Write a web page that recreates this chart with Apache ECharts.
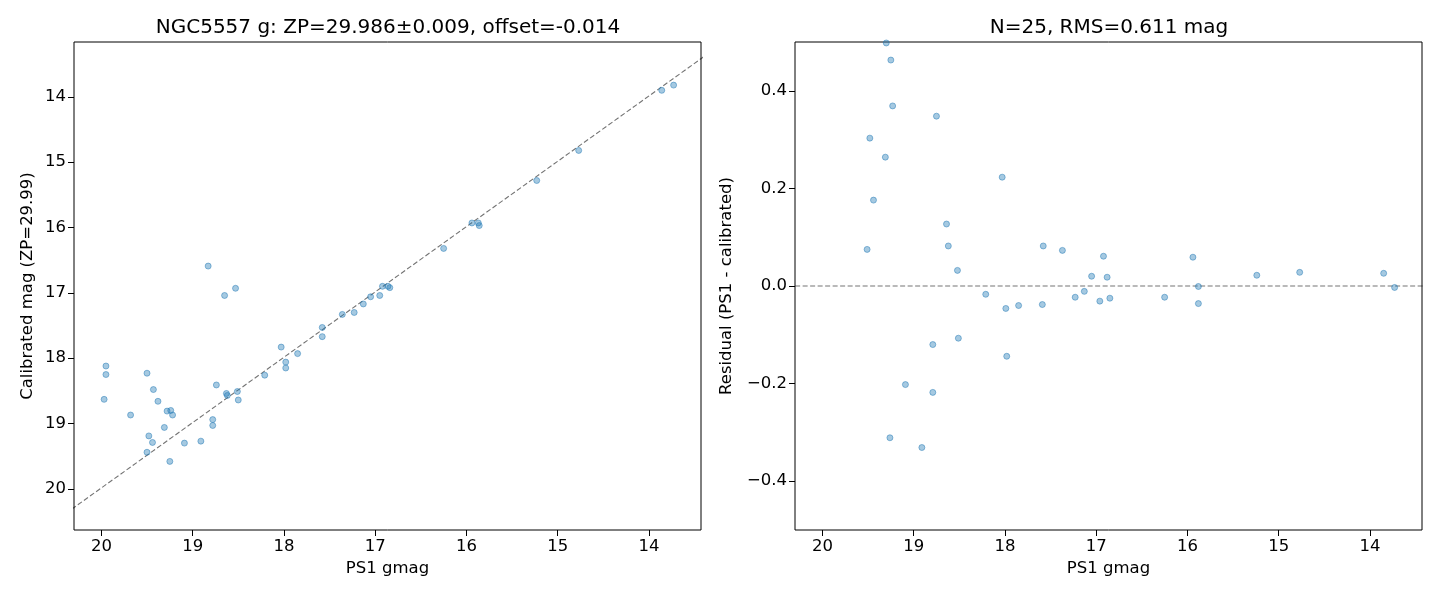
<!DOCTYPE html>
<html>
<head>
<meta charset="utf-8">
<script src="https://cdn.jsdelivr.net/npm/echarts@6/dist/echarts.min.js"></script>
<style>
  html, body { margin: 0; padding: 0; background: #fff; }
  #chart { width: 1440px; height: 600px; }
</style>
</head>
<body>
<div id="chart"></div>
<script>
// left panel: PS1 gmag vs calibrated mag
var ps1Mag = [18.83, 18.53, 18.65, 18.03, 17.98, 17.98, 19.95, 19.95, 19.97, 19.50,
  19.43, 19.38, 19.68, 19.28, 19.24, 19.22, 19.31, 19.48, 19.44, 19.50,
  19.25, 19.09, 18.91, 18.78, 18.78, 18.74, 18.63, 18.62, 18.51, 18.50,
  18.21, 17.85, 17.58, 17.58, 17.36, 17.23, 17.13, 17.05, 16.95, 16.92,
  16.86, 16.84, 16.25, 15.94, 15.87, 15.86, 15.23, 14.77, 13.86, 13.73];
var calMag = [16.59, 16.93, 17.04, 17.83, 18.06, 18.15, 18.12, 18.25, 18.63, 18.23,
  18.48, 18.66, 18.87, 18.81, 18.80, 18.87, 19.06, 19.19, 19.29, 19.44,
  19.58, 19.30, 19.27, 18.94, 19.03, 18.41, 18.54, 18.57, 18.51, 18.64,
  18.26, 17.93, 17.53, 17.67, 17.33, 17.30, 17.17, 17.06, 17.04, 16.90,
  16.90, 16.92, 16.32, 15.93, 15.93, 15.97, 15.28, 14.82, 13.90, 13.82];

// right panel: residuals
var resMag = [19.30, 19.25, 19.23, 18.75, 19.48, 19.31, 18.03, 19.44, 18.64, 18.62,
  19.51, 18.52, 18.21, 17.99, 17.85, 18.79, 18.51, 17.98, 19.09, 18.79,
  19.26, 18.91, 17.58, 17.37, 16.92, 17.05, 16.88, 17.59, 17.23, 17.13,
  16.96, 16.85, 16.25, 15.94, 15.88, 15.88, 15.24, 14.77, 13.85, 13.73];
var resid = [0.498, 0.463, 0.369, 0.348, 0.303, 0.264, 0.223, 0.176, 0.127, 0.082,
  0.075, 0.032, -0.017, -0.046, -0.040, -0.120, -0.107, -0.144, -0.202, -0.218,
  -0.311, -0.331, 0.082, 0.073, 0.061, 0.020, 0.018, -0.038, -0.023, -0.011,
  -0.031, -0.025, -0.023, 0.059, -0.001, -0.036, 0.022, 0.028, 0.026, -0.003];

var xLim = [13.43, 20.30];
var yLimLeft = [13.16, 20.63];
var yLimRight = [-0.5, 0.5];
var magTicks = [14, 15, 16, 17, 18, 19, 20];
var residTicks = [-0.4, -0.2, 0, 0.2, 0.4];
var offset = -0.014;

var font = 'DejaVu Sans';
var ptColor = 'rgba(31,119,180,0.5)';
var ptEdge = 'rgba(31,119,180,0.6)';

function zip(a, b) {
  return a.map(function (v, i) { return [v, b[i]]; });
}
function minusFmt(v) {
  var s = (+v).toFixed(1);
  return v < 0 ? '\u2212' + s.slice(1) : s;
}

function magAxis(idx, min, max, ticks, name, nameGap, fmt, isY) {
  return {
    gridIndex: idx,
    type: 'value',
    min: min,
    max: max,
    inverse: !(isY && fmt),
    name: name,
    nameLocation: 'middle',
    nameGap: nameGap,
    nameTextStyle: { fontFamily: font, fontSize: 16.5, color: '#000' },
    axisLine: { show: false, onZero: false },
    axisTick: { show: true, length: 6, inside: false, customValues: ticks, lineStyle: { color: '#000', width: 1 } },
    axisLabel: {
      customValues: ticks, fontFamily: font, fontSize: 16.5, color: '#000', margin: 8,
      formatter: fmt || function (v) { return String(v); }
    },
    splitLine: { show: false }
  };
}

var chart = echarts.init(document.getElementById('chart'));

var option = {
  animation: false,
  title: [
    { text: 'NGC5557 g: ZP=29.986\u00b10.009, offset=-0.014', left: 383, top: 13, textAlign: 'center',
      textStyle: { fontFamily: font, fontSize: 20, fontWeight: 'normal', color: '#000' } },
    { text: 'N=25, RMS=0.611 mag', left: 1104, top: 13, textAlign: 'center',
      textStyle: { fontFamily: font, fontSize: 20, fontWeight: 'normal', color: '#000' } }
  ],
  grid: [
    { left: 74, top: 42, width: 627, height: 488, show: true, borderColor: '#000', borderWidth: 1, backgroundColor: 'transparent' },
    { left: 795, top: 42, width: 627, height: 488, show: true, borderColor: '#000', borderWidth: 1, backgroundColor: 'transparent' }
  ],
  xAxis: [
    magAxis(0, xLim[0], xLim[1], magTicks, 'PS1 gmag', 30),
    magAxis(1, xLim[0], xLim[1], magTicks, 'PS1 gmag', 30)
  ],
  yAxis: [
    magAxis(0, yLimLeft[0], yLimLeft[1], magTicks, 'Calibrated mag (ZP=29.99)', 38, null, true),
    magAxis(1, yLimRight[0], yLimRight[1], residTicks, 'Residual (PS1 - calibrated)', 60, minusFmt, true)
  ],
  series: [
    {
      type: 'line', xAxisIndex: 0, yAxisIndex: 0, silent: true, symbol: 'none',
      data: [[xLim[0] - 0.5, xLim[0] - 0.5 + offset], [xLim[1] + 0.5, xLim[1] + 0.5 + offset]],
      lineStyle: { color: 'rgba(0,0,0,0.55)', width: 1.1, type: [5, 2.5] },
      clip: true, z: 1
    },
    {
      type: 'scatter', xAxisIndex: 0, yAxisIndex: 0, symbolSize: 6,
      data: zip(ps1Mag, calMag),
      itemStyle: { color: ptColor, borderColor: ptEdge, borderWidth: 1 }, z: 2
    },
    {
      type: 'line', xAxisIndex: 1, yAxisIndex: 1, silent: true, symbol: 'none',
      data: [[xLim[0] - 0.5, 0], [xLim[1] + 0.5, 0]],
      lineStyle: { color: 'rgba(0,0,0,0.55)', width: 1.1, type: [5, 2.5] },
      clip: true, z: 1
    },
    {
      type: 'scatter', xAxisIndex: 1, yAxisIndex: 1, symbolSize: 6,
      data: zip(resMag, resid),
      itemStyle: { color: ptColor, borderColor: ptEdge, borderWidth: 1 }, z: 2
    }
  ]
};

option && chart.setOption(option);
</script>
</body>
</html>
